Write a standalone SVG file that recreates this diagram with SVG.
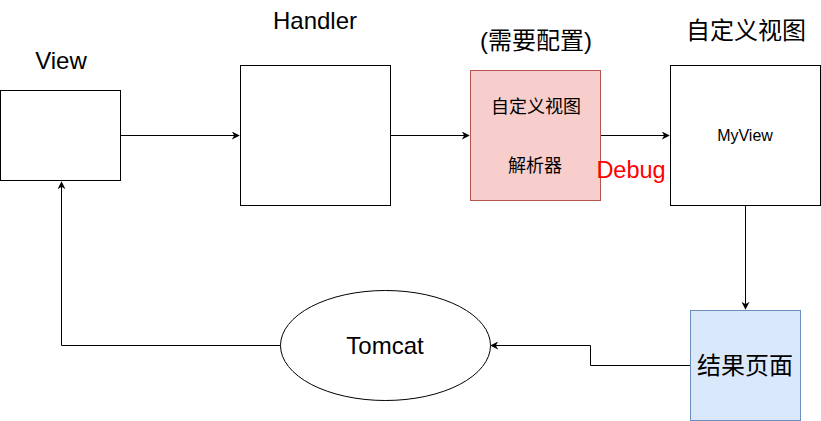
<svg xmlns="http://www.w3.org/2000/svg" width="821" height="421" viewBox="0 0 821 421">
<style>
.box{fill:#fff;stroke:#000;stroke-width:1}
.edge{fill:none;stroke:#000;stroke-width:1}
.t{font-family:"Liberation Sans","Noto Sans CJK SC",sans-serif;fill:#000;text-anchor:middle;dominant-baseline:central}
</style>
<defs>
<marker id="arr" viewBox="0 0 10 10" refX="9" refY="5" markerWidth="8" markerHeight="8" markerUnits="userSpaceOnUse" orient="auto">
<path d="M0,0 L10,5 L0,10 L3,5 Z" fill="#000"/>
</marker>
</defs>
<rect width="821" height="421" fill="#fff"/>
<g id="connectors">
<path class="edge" d="M120.5,135.5 H239" marker-end="url(#arr)"/>
<path class="edge" d="M390.5,135.5 H469" marker-end="url(#arr)"/>
<path class="edge" d="M600.5,135.5 H669" marker-end="url(#arr)"/>
<path class="edge" d="M745.5,205.5 V309" marker-end="url(#arr)"/>
<path class="edge" d="M690.5,365.5 H590.5 V345.5 H491" marker-end="url(#arr)"/>
<path class="edge" d="M280.5,345.5 H61.5 V182" marker-end="url(#arr)"/>
</g>
<g id="view">
<rect class="box" x="0.5" y="90.5" width="120" height="90"/>
<text class="t" x="61" y="60" font-size="24">View</text>
</g>
<g id="handler">
<rect class="box" x="240.5" y="65.5" width="150" height="140"/>
<text class="t" x="315" y="20" font-size="24">Handler</text>
</g>
<g id="resolver">
<rect x="470.5" y="70.5" width="130" height="130" fill="#f8cecc" stroke="#b85450"/>
<text class="t" x="536" y="40" font-size="24">(需要配置)</text>
<text class="t" x="536" y="107" font-size="18">自定义视图</text>
<text class="t" x="535" y="166" font-size="18">解析器</text>
</g>
<g id="debug">
<text class="t" x="631" y="170" font-size="23.5" style="fill:#ff0000">Debug</text>
</g>
<g id="myview">
<rect class="box" x="670.5" y="65.5" width="150" height="140"/>
<text class="t" x="746" y="30" font-size="24">自定义视图</text>
<text class="t" x="745" y="135" font-size="16">MyView</text>
</g>
<g id="result">
<rect x="690.5" y="310.5" width="110" height="110" fill="#dae8fc" stroke="#6c8ebf"/>
<text class="t" x="745" y="365" font-size="24">结果页面</text>
</g>
<g id="tomcat">
<ellipse cx="385.5" cy="345.5" rx="105" ry="55" fill="#fff" stroke="#000"/>
<text class="t" x="385" y="345" font-size="24">Tomcat</text>
</g>
</svg>
